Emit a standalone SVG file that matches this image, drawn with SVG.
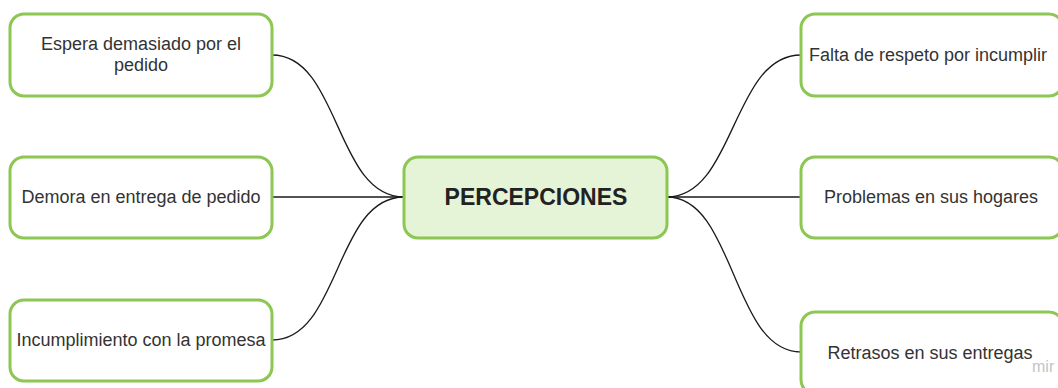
<svg xmlns="http://www.w3.org/2000/svg" width="1058" height="388" viewBox="0 0 1058 388">
<style>
.box{fill:#ffffff;stroke:#8cc653;stroke-width:3}
.center{fill:#e5f3d6;stroke:#8cc653;stroke-width:3}
.t{font-family:"Liberation Sans",Arial,sans-serif;font-size:18px;fill:#333333;text-anchor:middle}
.tc{font-family:"Liberation Sans",Arial,sans-serif;font-size:23px;font-weight:bold;fill:#222222;text-anchor:middle}
.c{fill:none;stroke:#1a1a1a;stroke-width:1.3}
</style>
<rect width="1058" height="388" fill="#ffffff"/>
<g id="connectors">
<path class="c" d="M272 55 C340 55 335 197 404 197"/>
<path class="c" d="M272 197 L404 197"/>
<path class="c" d="M272 340 C340 340 335 197 404 197"/>
<path class="c" d="M667 197 C735 197 732 55 801 55"/>
<path class="c" d="M667 197 L801 197"/>
<path class="c" d="M667 197 C735 197 732 352 801 352"/>
</g>
<g id="n-center">
<rect class="center" x="404" y="157" width="263" height="81" rx="14"/>
<text class="tc" x="536" y="205">PERCEPCIONES</text>
</g>
<g id="n-espera">
<rect class="box" x="10" y="14" width="262" height="82" rx="14"/>
<text class="t" x="141" y="50">Espera demasiado por el</text>
<text class="t" x="141" y="71">pedido</text>
</g>
<g id="n-demora">
<rect class="box" x="10" y="157" width="262" height="81" rx="14"/>
<text class="t" x="141" y="203">Demora en entrega de pedido</text>
</g>
<g id="n-incumplimiento">
<rect class="box" x="10" y="300" width="262" height="81" rx="14"/>
<text class="t" x="141" y="346">Incumplimiento con la promesa</text>
</g>
<g id="n-falta">
<rect class="box" x="801" y="14" width="262" height="82" rx="14"/>
<text class="t" x="928" y="61">Falta de respeto por incumplir</text>
</g>
<g id="n-problemas">
<rect class="box" x="801" y="157" width="262" height="81" rx="14"/>
<text class="t" x="931" y="203">Problemas en sus hogares</text>
</g>
<g id="n-retrasos">
<rect class="box" x="801" y="312" width="262" height="82" rx="14"/>
<text class="t" x="930" y="359">Retrasos en sus entregas</text>
</g>
<text x="1032" y="372" font-family="'Liberation Sans',Arial,sans-serif" font-size="16" fill="#c4c4c4">mir</text>
</svg>
